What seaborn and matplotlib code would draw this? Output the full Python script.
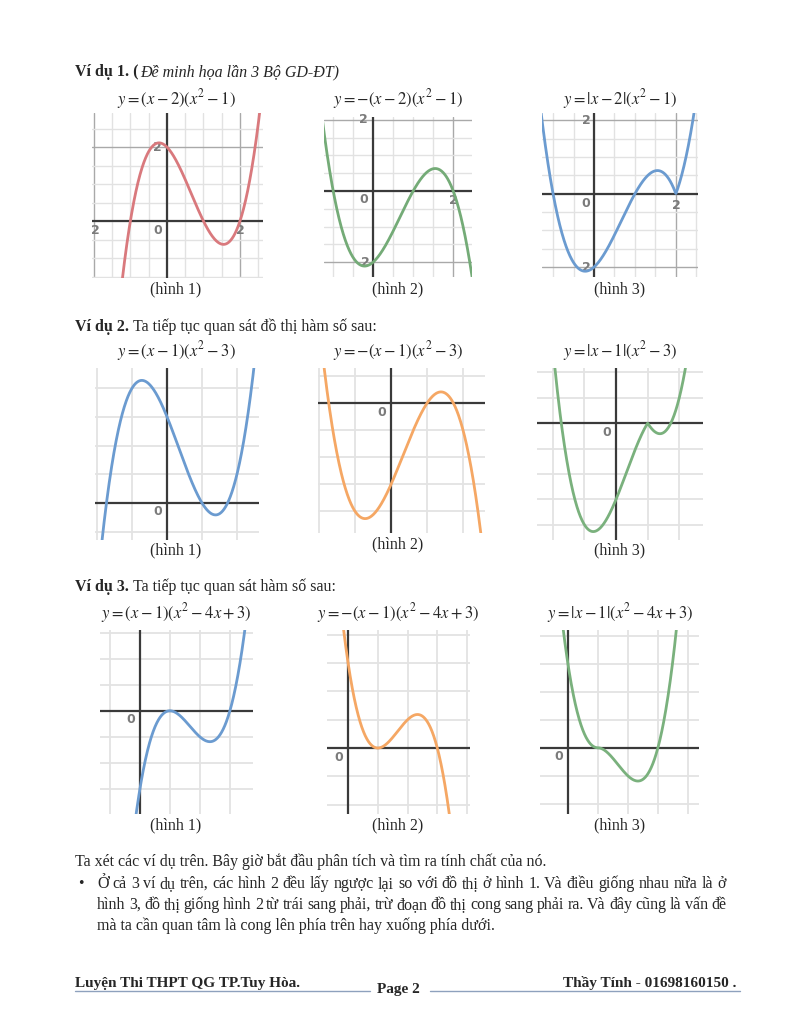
import numpy as np
import matplotlib
matplotlib.use("Agg")
import matplotlib.pyplot as plt
import seaborn as sns

# functions drawn on the page: y = (x - a) * (x^2 + b*x + c)
lin_roots = [2, 1, 1]
quad_coefs = [[1, 0, -1], [1, 0, -3], [1, -4, 3]]
variants = ["plain", "neg", "abs"]  # hình 1, hình 2, hình 3

titles = [
    [r"$y=\left(x-2\right)\left(x^2-1\right)$",
     r"$y=-\left(x-2\right)\left(x^2-1\right)$",
     r"$y=\left|x-2\right|\left(x^2-1\right)$"],
    [r"$y=\left(x-1\right)\left(x^2-3\right)$",
     r"$y=-\left(x-1\right)\left(x^2-3\right)$",
     r"$y=\left|x-1\right|\left(x^2-3\right)$"],
    [r"$y=\left(x-1\right)\left(x^2-4x+3\right)$",
     r"$y=-\left(x-1\right)\left(x^2-4x+3\right)$",
     r"$y=\left|x-1\right|\left(x^2-4x+3\right)$"],
]
captions = ["(hình 1)", "(hình 2)", "(hình 3)"]
headers_bold = ["Ví dụ 1. (", "Ví dụ 2.", "Ví dụ 3."]
headers_rest = ["Đề minh họa lần 3 Bộ GD-ĐT)",
                " Ta tiếp tục quan sát đồ thị hàm số sau:",
                " Ta tiếp tục quan sát hàm số sau:"]

body_first = "Ta xét các ví dụ trên. Bây giờ bắt đầu phân tích và tìm ra tính chất của nó."
bullet_lines = [
    "Ở cả 3 ví dụ trên, các hình 2 đều lấy ngược lại so với đồ thị ở hình 1. Và điều giống nhau nữa là ở",
    "hình 3, đồ thị giống hình 2 từ trái sang phải, trừ đoạn đồ thị cong sang phải ra. Và đây cũng là vấn đề",
    "mà ta cần quan tâm là cong lên phía trên hay xuống phía dưới.",
]
footer_left = "Luyện Thi THPT QG TP.Tuy Hòa."
footer_mid = "Page 2"
footer_right = "Thầy Tính - 01698160150 ."

# tick labels per panel: (text, data x, data y, dx px, dy px)
ex1_labels = [
    [("0", 0, 0, -9, -9), ("2", 2, 0, 0, -9), ("2", -2, 0, 2, -9), ("2", 0, 2, -10, 0)],
    [("2", 0, 2, -10, 0), ("0", 0, 0, -9, -9), ("2", 2, 0, 0, -10), ("2", 0, -2, -8, 0)],
    [("2", 0, 2, -8, 0), ("0", 0, 0, -8, -10), ("2", 2, 0, 0, -12), ("2", 0, -2, -8, 0)],
]
zero_label = [("0", 0, 0, -9, -9)]

# ---- layout (pixels on a 792x1024 page) ----
W, H = 792, 1024
panels = [
    [dict(box=(92, 113, 263, 278), xlim=(-2.05, 2.63), ylim=(-1.54, 2.92)),
     dict(box=(324, 117, 472, 277), xlim=(-1.23, 2.47), ylim=(-2.42, 2.08)),
     dict(box=(542, 113, 698, 277), xlim=(-1.27, 2.54), ylim=(-2.27, 2.2))],
    [dict(box=(95, 368, 259, 540), xlim=(-2.06, 2.63), ylim=(-1.29, 4.7)),
     dict(box=(318, 368, 485, 533), xlim=(-2.03, 2.61), ylim=(-4.8, 1.3)),
     dict(box=(537, 368, 703, 540), xlim=(-2.5, 2.75), ylim=(-4.6, 2.17))],
    [dict(box=(100, 630, 253, 814), xlim=(-1.33, 3.77), ylim=(-3.96, 3.1)),
     dict(box=(327, 630, 470, 814), xlim=(-0.71, 4.1), ylim=(-2.33, 4.17)),
     dict(box=(540, 630, 699, 814), xlim=(-0.93, 4.37), ylim=(-2.36, 4.2))],
]
curve_colors = [["#d9797d", "#74ab77", "#6b9bd0"],
                ["#6b9bd0", "#f5a764", "#7ab17d"],
                ["#6b9bd0", "#f5a764", "#7ab17d"]]
col_centers = [176, 398, 620]
header_y = [72, 327, 587]
title_y = [99, 351, 613]
caption_y = [[289, 289, 289], [550, 544, 550], [825, 825, 825]]

sns.set_theme(style="white")
plt.rcParams["mathtext.fontset"] = "stix"
plt.rcParams["font.family"] = ["Liberation Serif", "DejaVu Serif"]

fig = plt.figure(figsize=(W / 100, H / 100), dpi=100)
fig.patch.set_facecolor("white")
renderer = fig.canvas.get_renderer()


def fx(px):
    return px / W


def fy(py):
    return 1 - py / H


def text_width(s, **props):
    t = fig.text(0, 0, s, **props)
    w = t.get_window_extent(renderer).width
    t.remove()
    return w


def grid_values(lo, hi, step):
    start = np.ceil(lo / step) * step
    return np.arange(start, hi + 1e-9, step)


for r in range(3):
    a = lin_roots[r]
    q = np.poly1d(quad_coefs[r])
    for c in range(3):
        p = panels[r][c]
        l, t, rr, b = p["box"]
        ax = fig.add_axes([fx(l), fy(b), (rr - l) / W, (b - t) / H])
        for s in ax.spines.values():
            s.set_visible(False)
        ax.set_xticks([])
        ax.set_yticks([])
        ax.set_facecolor("white")

        # grid
        if r == 0:
            for v in grid_values(*p["xlim"], 0.5):
                major = abs(abs(v) - 2) < 1e-6
                ax.axvline(v, color="#a9a9a9" if major else "#e2e2e2", lw=1.0, zorder=0)
            for v in grid_values(*p["ylim"], 0.5):
                major = abs(abs(v) - 2) < 1e-6
                ax.axhline(v, color="#a9a9a9" if major else "#e2e2e2", lw=1.0, zorder=0)
        else:
            for v in grid_values(*p["xlim"], 1.0):
                ax.axvline(v, color="#e3e3e3", lw=1.3, zorder=0)
            for v in grid_values(*p["ylim"], 1.0):
                ax.axhline(v, color="#e3e3e3", lw=1.3, zorder=0)
        ax.axhline(0, color="#3a3a3a", lw=1.6, zorder=1)
        ax.axvline(0, color="#3a3a3a", lw=1.6, zorder=1)

        x = np.linspace(p["xlim"][0] - 0.05, p["xlim"][1] + 0.05, 600)
        if variants[c] == "plain":
            y = (x - a) * q(x)
        elif variants[c] == "neg":
            y = -(x - a) * q(x)
        else:
            y = np.abs(x - a) * q(x)
        sns.lineplot(x=x, y=y, ax=ax, color=curve_colors[r][c], lw=2.0,
                     sort=False, estimator=None, zorder=3)
        ax.set_xlim(*p["xlim"])
        ax.set_ylim(*p["ylim"])
        ax.set_xlabel("")
        ax.set_ylabel("")

        labels = ex1_labels[c] if r == 0 else zero_label
        for s, lx, ly, dx, dy in labels:
            ax.annotate(s, (lx, ly), xytext=(dx, dy), textcoords="offset pixels",
                        ha="center", va="center", fontsize=9, color="#7b7b7b",
                        fontweight="bold", family="DejaVu Sans", zorder=2)

        fig.text(fx(col_centers[c]), fy(title_y[r]), titles[r][c], ha="center",
                 va="center", fontsize=12)
        fig.text(fx(col_centers[c]), fy(caption_y[r][c]), captions[c], ha="center",
                 va="center", fontsize=11.5)

# headers
for r in range(3):
    bold = dict(fontsize=11.5, fontweight="bold")
    rest = dict(fontsize=11.5, style="italic") if r == 0 else dict(fontsize=11.5)
    fig.text(fx(75), fy(header_y[r]), headers_bold[r], ha="left", va="center", **bold)
    w = text_width(headers_bold[r], **bold)
    gap = 4 if r > 0 else 2
    fig.text(fx(75 + w + gap), fy(header_y[r]), headers_rest[r].strip(), ha="left",
             va="center", **rest)

# body text
body = dict(fontsize=11.5)
fig.text(fx(75), fy(862), body_first, ha="left", va="center", **body)
fig.text(fx(81), fy(884), "•", ha="center", va="center", fontsize=11.5)


def justify(line, x0, x1, y, props):
    words = line.split()
    widths = [text_width(w, **props) for w in words]
    gap = (x1 - x0 - sum(widths)) / (len(words) - 1)
    xx = x0
    for wd_s, wd in zip(words, widths):
        fig.text(fx(xx), fy(y), wd_s, ha="left", va="center", **props)
        xx += wd + gap


justify(bullet_lines[0], 97, 726, 884, body)
justify(bullet_lines[1], 97, 726, 905, body)
fig.text(fx(97), fy(926), bullet_lines[2], ha="left", va="center", **body)

# footer
foot = dict(fontsize=11, fontweight="bold", family=["Liberation Serif", "DejaVu Serif"])
fig.text(fx(75), fy(983), footer_left, ha="left", va="center", **foot)
fig.text(fx(736), fy(983), footer_right, ha="right", va="center", **foot)
fig.text(fx(398), fy(990), footer_mid, ha="center", va="center", **foot)
fig.add_artist(plt.Line2D([fx(75), fx(370)], [fy(991), fy(991)], color="#8ea1bd", lw=1.0))
fig.add_artist(plt.Line2D([fx(430), fx(740)], [fy(991), fy(991)], color="#8ea1bd", lw=1.0))

fig.savefig("out.png", dpi=100)
